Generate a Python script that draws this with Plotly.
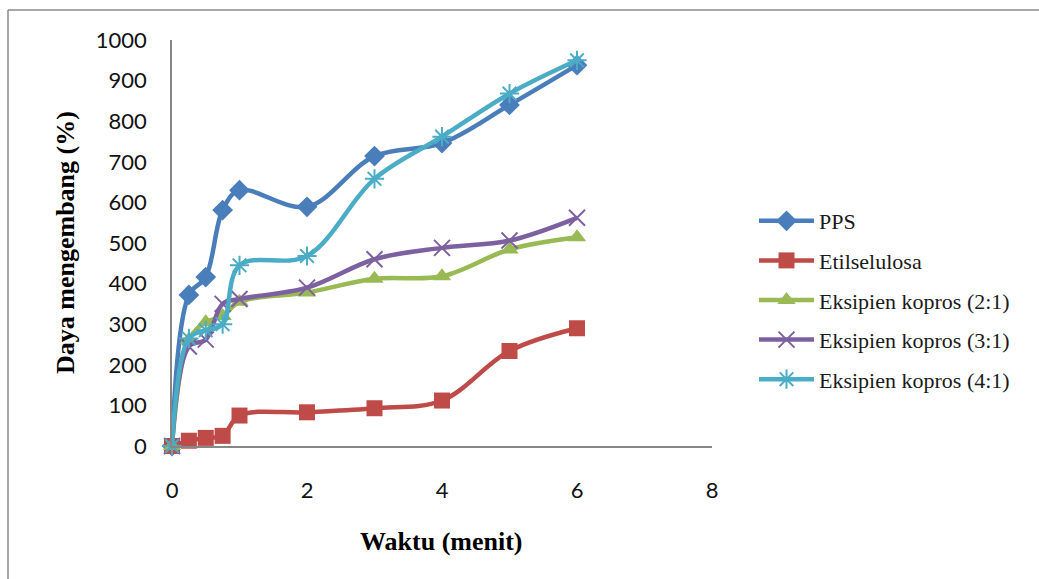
import plotly.graph_objects as go

# Swelling capacity (%) measured over time (minutes)
waktu = [0, 0.25, 0.5, 0.75, 1, 2, 3, 4, 5, 6]
pps = [0, 372, 416, 581, 630, 589, 714, 746, 840, 938]
etilselulosa = [0, 13, 20, 25, 75, 83, 93, 112, 234, 290]
kop_2_1 = [0, 262, 305, 320, 355, 378, 412, 418, 484, 514]
kop_3_1 = [0, 245, 262, 350, 362, 390, 460, 488, 506, 562]
kop_4_1 = [0, 265, 285, 300, 445, 468, 658, 762, 868, 950]

series_names = ["PPS", "Etilselulosa", "Eksipien kopros (2:1)",
                "Eksipien kopros (3:1)", "Eksipien kopros (4:1)"]
series_values = [pps, etilselulosa, kop_2_1, kop_3_1, kop_4_1]

x_ticks = [0, 2, 4, 6, 8]
y_ticks = list(range(0, 1001, 100))

styles = [
    dict(color="#4A7EBB", symbol="diamond", size=16, mline=0),
    dict(color="#BE4B48", symbol="square", size=16, mline=0),
    dict(color="#98B954", symbol="triangle-up", size=16, mline=0),
    dict(color="#7D60A0", symbol="x-thin", size=16, mline=2),
    dict(color="#4BACC6", symbol="asterisk", size=16, mline=2),
]

fig = go.Figure()
for i, (name, vals, st) in enumerate(zip(series_names, series_values, styles)):
    fig.add_trace(go.Scatter(
        x=waktu, y=vals, name=name, mode="lines+markers",
        legendgroup=f"g{i}",
        line=dict(color=st["color"], width=4.5, shape="spline", smoothing=1.0),
        marker=dict(symbol=st["symbol"], size=st["size"], color=st["color"],
                    line=dict(color=st["color"], width=st["mline"])),
        cliponaxis=False,
    ))

W, H = 1039, 579
L, R, T, B = 172, 712, 40, 446
pw, ph = R - L, B - T


def px(xp):
    return (xp - L) / pw


def py(yp):
    return (B - yp) / ph


axis_grey = "#868686"
tick_font = dict(family="Lato", size=22, color="#111111")
serif = "Liberation Serif"

fig.update_layout(
    width=W, height=H,
    margin=dict(l=L, r=W - R, t=T, b=H - B, pad=0),
    paper_bgcolor="white", plot_bgcolor="white",
    showlegend=True,
    legend=dict(
        x=px(754), y=py(200), xanchor="left", yanchor="top",
        font=dict(family=serif, size=22, color="#1a1a1a"),
        tracegroupgap=8, itemwidth=55, bgcolor="rgba(0,0,0,0)",
    ),
    xaxis=dict(
        range=[0, 8], tickvals=x_ticks, ticktext=[str(v) for v in x_ticks],
        showgrid=False, zeroline=False, showline=True, linecolor=axis_grey,
        linewidth=1.5, ticks="", tickfont=tick_font, ticklabelstandoff=24,
    ),
    yaxis=dict(
        range=[0, 1000], tickvals=y_ticks, ticktext=[str(v) for v in y_ticks],
        showgrid=False, zeroline=False, showline=True, linecolor=axis_grey,
        linewidth=1.5, ticks="", tickfont=tick_font, ticklabelstandoff=19,
    ),
    annotations=[
        dict(text="<b>Waktu (menit)</b>", xref="paper", yref="paper",
             x=px(441), y=py(541), xanchor="center", yanchor="middle",
             showarrow=False,
             font=dict(family=serif, size=26, color="#000000")),
        dict(text="<b>Daya mengembang (%)</b>", xref="paper", yref="paper",
             x=px(65), y=py(243), xanchor="center", yanchor="middle",
             showarrow=False, textangle=-90,
             font=dict(family=serif, size=26, color="#000000")),
    ],
    shapes=[
        dict(type="line", xref="paper", yref="paper",
             x0=px(8), x1=px(8), y0=py(10), y1=py(H + 5),
             line=dict(color="#8a8a8a", width=1.5)),
        dict(type="line", xref="paper", yref="paper",
             x0=px(8), x1=px(W + 5), y0=py(10), y1=py(10),
             line=dict(color="#8a8a8a", width=1.5)),
    ],
)

fig.write_html("out.html")
